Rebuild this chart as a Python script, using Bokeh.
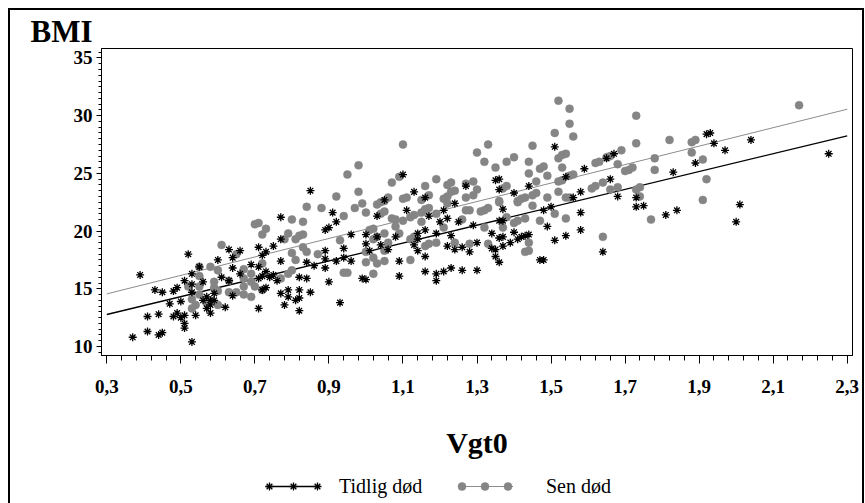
import numpy as np
from bokeh.plotting import figure
from bokeh.layouts import column
from bokeh.models import Range1d, FixedTicker, Legend, LegendItem, ColumnDataSource
from bokeh.embed import file_html
from bokeh.resources import INLINE

# ---------------- data ----------------
x_ticks = [0.3, 0.5, 0.7, 0.9, 1.1, 1.3, 1.5, 1.7, 1.9, 2.1, 2.3]
x_tick_labels = ["0,3", "0,5", "0,7", "0,9", "1,1", "1,3", "1,5", "1,7", "1,9", "2,1", "2,3"]
y_ticks = [10, 15, 20, 25, 30, 35]

series_names = ["Tidlig død", "Sen død"]

tidlig_x = [0.37, 0.39, 0.41, 0.41, 0.43, 0.44, 0.44, 0.45, 0.45, 0.47, 0.48, 0.48, 0.49, 0.49,
            0.50, 0.50, 0.51, 0.51, 0.51, 0.51, 0.52, 0.53, 0.53, 0.53, 0.53, 0.54, 0.55, 0.56,
            0.56, 0.57, 0.57, 0.58, 0.58, 0.58, 0.59, 0.59, 0.60, 0.61, 0.62, 0.63, 0.64, 0.66,
            0.64, 0.63, 0.66, 0.64, 0.69, 0.71, 0.71, 0.72, 0.73, 0.72, 0.71, 0.73, 0.74, 0.75,
            0.75, 0.77, 0.77, 0.77, 0.76, 0.71, 0.72, 0.73, 0.77, 0.79, 0.79, 0.78, 0.81, 0.82,
            0.82, 0.82, 0.82, 0.84, 0.84, 0.85, 0.85, 0.86, 0.89, 0.89, 0.89, 0.89, 0.90, 0.91,
            0.92, 0.90, 0.92, 0.94, 0.94, 0.93, 0.96, 0.96, 1.00, 1.00, 1.01, 1.03, 1.04, 1.05,
            1.03, 1.06, 1.08, 1.10, 1.11, 1.13, 1.09, 1.09, 0.99, 1.00, 1.13, 1.14, 1.14, 1.14,
            1.16, 1.16, 1.16, 1.17, 1.16, 1.19, 1.19, 1.21, 1.23, 1.26, 1.20, 1.21, 1.22, 1.23,
            1.22, 1.24, 1.24, 1.25, 1.26, 1.27, 1.28, 1.29, 1.30, 1.30, 1.19, 1.36, 1.35, 1.36,
            1.37, 1.36, 1.37, 1.34, 1.36, 1.37, 1.37, 1.34, 1.35, 1.35, 1.36, 1.39, 1.40, 1.40,
            1.41, 1.42, 1.43, 1.44, 1.44, 1.47, 1.48, 1.48, 1.49, 1.50, 1.51, 1.51, 1.54, 1.54,
            1.56, 1.58, 1.58, 1.58, 1.59, 1.64, 1.65, 1.67, 1.66, 1.68, 1.73, 1.73, 1.75, 1.81,
            1.84, 1.83, 1.89, 1.92, 1.93, 1.94, 1.97, 2.04, 2.25, 2.01, 2.00]
tidlig_y = [10.8, 16.2, 12.6, 11.3, 14.9, 11.0, 12.8, 11.2, 14.7, 13.7, 14.8, 12.6, 15.1, 12.9,
            12.5, 13.9, 12.7, 12.0, 11.6, 15.7, 18.0, 16.3, 15.4, 14.7, 10.4, 12.7, 16.9, 15.6,
            14.0, 13.3, 14.3, 12.9, 13.6, 14.0, 14.6, 14.0, 17.5, 16.0, 13.4, 18.4, 17.7, 18.3,
            16.8, 15.7, 16.3, 14.4, 17.1, 18.6, 16.9, 17.9, 18.2, 16.1, 15.9, 16.5, 16.0, 16.2,
            18.7, 21.2, 19.3, 17.4, 15.7, 13.3, 14.9, 15.1, 14.6, 14.9, 14.3, 13.6, 14.0, 14.9,
            14.2, 13.1, 16.0, 15.9, 17.3, 23.5, 14.7, 17.0, 18.3, 16.8, 17.6, 20.1, 20.3, 21.6,
            20.8, 15.6, 17.4, 17.7, 18.5, 13.8, 19.7, 17.4, 19.7, 18.9, 18.3, 19.5, 18.8, 22.7,
            21.3, 18.4, 19.5, 24.9, 21.8, 23.4, 17.4, 16.1, 15.9, 15.8, 18.8, 19.3, 19.8, 18.3,
            17.8, 20.1, 22.9, 21.3, 16.5, 16.3, 15.7, 16.5, 16.8, 16.6, 20.8, 21.8, 21.1, 19.6,
            18.7, 22.4, 18.4, 20.8, 18.6, 23.9, 18.2, 20.5, 19.0, 16.6, 19.8, 24.5, 24.4, 23.6,
            21.9, 20.9, 20.9, 19.8, 19.4, 19.5, 18.7, 18.5, 18.4, 17.8, 17.3, 19.0, 19.9, 23.3,
            19.3, 19.5, 19.6, 19.7, 23.9, 17.5, 17.5, 21.8, 20.4, 22.1, 27.3, 19.2, 19.6, 24.7,
            22.9, 23.4, 21.6, 20.1, 25.4, 18.2, 26.3, 26.7, 24.5, 23.0, 22.9, 22.1, 22.2, 21.4,
            21.8, 25.1, 25.9, 28.4, 28.5, 27.6, 27.0, 27.9, 26.7, 22.3, 20.8]

sen_x = [0.52, 0.53, 0.53, 0.54, 0.55, 0.55, 0.55, 0.55, 0.57, 0.58, 0.59, 0.59, 0.60, 0.60,
         0.61, 0.60, 0.63, 0.63, 0.70, 0.71, 0.72, 0.73, 0.65, 0.67, 0.67, 0.65, 0.69, 0.69,
         0.70, 0.72, 0.67, 0.67, 0.69, 0.72, 0.77, 0.79, 0.80, 0.78, 0.79, 0.81, 0.82, 0.83,
         0.80, 0.83, 0.84, 0.88, 0.92, 0.95, 0.94, 0.93, 0.83, 0.80, 0.81, 0.84, 0.87, 0.94,
         0.95, 1.10, 0.98, 0.98, 0.97, 0.99, 1.00, 1.03, 1.04, 1.05, 1.04, 1.05, 1.07, 1.09,
         1.06, 1.10, 1.11, 1.15, 1.17, 1.16, 1.19, 1.22, 1.23, 1.21, 1.22, 1.23, 1.24, 1.27,
         1.29, 1.27, 1.29, 1.30, 1.07, 1.08, 1.10, 1.08, 1.12, 1.13, 1.15, 1.16, 1.17, 1.15,
         1.01, 1.02, 1.02, 1.03, 1.00, 1.02, 1.00, 1.03, 1.05, 1.06, 1.05, 1.09, 1.05, 1.02,
         1.12, 1.13, 1.12, 1.16, 1.17, 1.19, 1.21, 1.19, 1.22, 1.24, 1.26, 1.27, 1.28, 1.28,
         1.52, 1.55, 1.55, 1.56, 1.51, 1.33, 1.45, 1.52, 1.53, 1.54, 1.32, 1.35, 1.38, 1.40,
         1.44, 1.44, 1.47, 1.48, 1.49, 1.53, 1.52, 1.53, 1.55, 1.56, 1.46, 1.30, 1.37, 1.38,
         1.42, 1.43, 1.45, 1.46, 1.36, 1.36, 1.32, 1.33, 1.31, 1.41, 1.41, 1.49, 1.52, 1.54,
         1.55, 1.62, 1.63, 1.61, 1.62, 1.45, 1.38, 1.37, 1.32, 1.40, 1.41, 1.43, 1.47, 1.51,
         1.54, 1.33, 1.44, 1.43, 1.44, 1.64, 1.73, 1.73, 1.82, 1.88, 1.89, 1.69, 1.66, 1.65,
         1.68, 1.78, 1.78, 1.70, 1.71, 1.72, 1.88, 1.91, 1.64, 1.66, 1.68, 1.73, 1.74, 1.74,
         1.92, 1.77, 1.91, 2.17]
sen_y = [15.2, 14.1, 13.3, 13.6, 14.5, 15.2, 16.1, 16.9, 13.8, 16.9, 15.1, 15.6, 13.6, 16.6,
         18.8, 14.8, 14.7, 15.7, 20.6, 20.7, 19.7, 20.2, 18.0, 16.7, 14.5, 14.7, 14.3, 15.6,
         15.2, 17.2, 15.2, 15.9, 16.3, 14.9, 15.9, 16.3, 16.6, 19.3, 19.8, 19.3, 19.6, 19.7,
         21.0, 20.8, 22.1, 22.0, 23.0, 24.9, 21.3, 19.2, 18.6, 18.1, 17.5, 18.2, 18.0, 16.4,
         16.4, 27.5, 25.7, 23.4, 22.0, 22.4, 21.6, 22.3, 22.5, 22.6, 21.5, 21.7, 24.2, 24.7,
         22.9, 22.8, 22.9, 22.7, 23.1, 23.9, 24.5, 24.0, 24.2, 22.8, 23.0, 23.4, 23.5, 22.9,
         23.1, 24.1, 24.3, 26.8, 21.1, 21.0, 20.9, 20.4, 21.2, 21.4, 21.6, 21.9, 22.0, 20.8,
         20.1, 20.2, 19.3, 19.5, 18.2, 17.7, 17.3, 17.2, 18.3, 19.0, 19.8, 19.8, 17.4, 16.3,
         19.3, 19.5, 17.5, 18.7, 18.9, 19.0, 20.3, 21.5, 22.4, 19.0, 21.0, 21.8, 21.8, 18.9,
         31.3, 30.6, 29.3, 28.2, 28.5, 27.5, 27.4, 26.3, 26.6, 26.7, 26.0, 25.5, 26.0, 26.4,
         26.0, 25.0, 25.4, 25.6, 24.8, 25.5, 24.3, 24.4, 24.8, 24.9, 24.3, 23.6, 23.7, 23.9,
         22.8, 22.9, 23.1, 23.3, 22.5, 22.6, 21.8, 22.0, 21.7, 22.5, 22.6, 22.9, 23.4, 22.9,
         22.9, 25.9, 26.0, 23.7, 23.9, 22.2, 21.2, 20.3, 20.3, 20.7, 20.9, 21.1, 20.9, 21.5,
         21.1, 18.9, 19.0, 18.2, 18.3, 19.5, 30.0, 27.6, 27.9, 27.7, 27.9, 27.0, 26.5, 26.4,
         25.8, 26.3, 25.3, 25.2, 25.3, 25.5, 26.8, 26.2, 24.2, 23.6, 23.8, 23.6, 23.8, 23.0,
         24.5, 21.0, 22.7, 30.9]

# linear fits as drawn in the reference (intercept, slope)
tidlig_fit = [10.45, 7.74]
sen_fit = [12.16, 8.00]

# ---------------- sources ----------------
fit_xs = [x_ticks[0], x_ticks[-1]]
src_t = ColumnDataSource(dict(x=tidlig_x, y=tidlig_y))
src_s = ColumnDataSource(dict(x=sen_x, y=sen_y))
fit_t = ColumnDataSource(dict(x=fit_xs, y=[tidlig_fit[0] + tidlig_fit[1] * v for v in fit_xs]))
fit_s = ColumnDataSource(dict(x=fit_xs, y=[sen_fit[0] + sen_fit[1] * v for v in fit_xs]))

# ---------------- styles ----------------
FONT = "Liberation Serif"
STAR = dict(marker="asterisk", size=8, line_color="black", line_width=1.3)
DOT = dict(marker="circle", size=8, fill_color="#858585", line_color="#858585", line_width=0.5)
LINE_T = dict(line_color="black", line_width=1.3)
LINE_S = dict(line_color="#8c8c8c", line_width=1)

# ---------------- main figure ----------------
p = figure(width=852, height=462, output_backend="svg", toolbar_location=None,
           x_range=Range1d(0.2857, 2.3143), y_range=Range1d(9.22, 35.82),
           min_border_left=91, min_border_right=10, min_border_top=38, min_border_bottom=117)
p.grid.visible = False
p.outline_line_color = "black"
p.outline_line_width = 1
p.background_fill_color = "white"
p.border_fill_color = "white"

p.title.text = "BMI"
p.title.align = "left"
p.title.offset = -71
p.title.standoff = 0
p.title.text_font = FONT
p.title.text_font_style = "bold"
p.title.text_font_size = "31px"
p.title.text_color = "black"

p.xaxis.ticker = FixedTicker(ticks=x_ticks,
                             minor_ticks=[round(v, 2) for v in np.arange(0.3, 2.3001, 0.04)])
p.xaxis.major_label_overrides = {t: l for t, l in zip(x_ticks, x_tick_labels)}
p.xaxis.axis_label = "Vgt0"
p.xaxis.axis_label_text_font = FONT
p.xaxis.axis_label_text_font_style = "bold"
p.xaxis.axis_label_text_font_size = "30px"
p.xaxis.axis_label_text_color = "black"
p.xaxis.axis_label_standoff = 30
p.xaxis.major_tick_out = 8
p.xaxis.major_tick_in = 0
p.xaxis.minor_tick_out = 5
p.xaxis.minor_tick_in = 0
p.xaxis.major_label_standoff = 16

p.yaxis.ticker = FixedTicker(ticks=y_ticks, minor_ticks=list(np.arange(9.5, 36.0, 0.5)))
p.yaxis.major_tick_out = 5
p.yaxis.major_tick_in = 0
p.yaxis.minor_tick_out = 3
p.yaxis.minor_tick_in = 0
p.yaxis.major_label_standoff = 4

for ax in (p.xaxis, p.yaxis):
    ax.major_label_text_font = FONT
    ax.major_label_text_font_style = "bold"
    ax.major_label_text_font_size = "19px"
    ax.major_label_text_color = "black"
    ax.axis_line_color = "black"
    ax.major_tick_line_color = "black"
    ax.minor_tick_line_color = "black"

p.line("x", "y", source=fit_s, **LINE_S)
p.line("x", "y", source=fit_t, **LINE_T)
p.scatter("x", "y", source=src_s, **DOT)
p.scatter("x", "y", source=src_t, **STAR)

# ---------------- legend strip (same sources, view range kept off the data) ----------------
pl = figure(width=852, height=31, output_backend="svg", toolbar_location=None,
            x_range=Range1d(-3, -2), y_range=Range1d(-3, -2),
            x_axis_location=None, y_axis_location=None, min_border=0)
pl.grid.visible = False
pl.outline_line_color = None
pl.background_fill_color = "white"
pl.border_fill_color = "white"

lt = pl.line("x", "y", source=fit_t, **LINE_T)
st = pl.scatter("x", "y", source=src_t, **STAR)
ls = pl.line("x", "y", source=fit_s, **LINE_S)
ss = pl.scatter("x", "y", source=src_s, **DOT)

common = dict(orientation="horizontal", glyph_height=20, label_height=24, label_width=0,
              label_standoff=0, padding=0, margin=0, spacing=0, border_line_color=None,
              background_fill_alpha=0, label_text_font=FONT, label_text_font_size="20px",
              label_text_color="black")


def add_legend(items, x, glyph_width):
    pl.add_layout(Legend(items=items, location=(x, 5), glyph_width=glyph_width, **common))


# Tidlig død: line, three asterisks on it, then its label
add_legend([LegendItem(label="", renderers=[lt])], 164, 55)
add_legend([LegendItem(label="", renderers=[st]) for _ in range(3)], 156, 24)
add_legend([LegendItem(label=series_names[0], renderers=[lt])], 238, 0)
# Sen død: line, three dots on it, then its label
add_legend([LegendItem(label="", renderers=[ls])], 357, 55)
add_legend([LegendItem(label="", renderers=[ss]) for _ in range(3)], 349, 23)
add_legend([LegendItem(label=series_names[1], renderers=[ls])], 445, 0)

layout = column(p, pl, spacing=0)
layout.styles = {"margin-left": "8px", "margin-top": "8px",
                 "border-left": "2px solid black", "border-top": "2px solid black",
                 "border-right": "2px solid black"}

open("out.html", "w").write(file_html(layout, INLINE))
